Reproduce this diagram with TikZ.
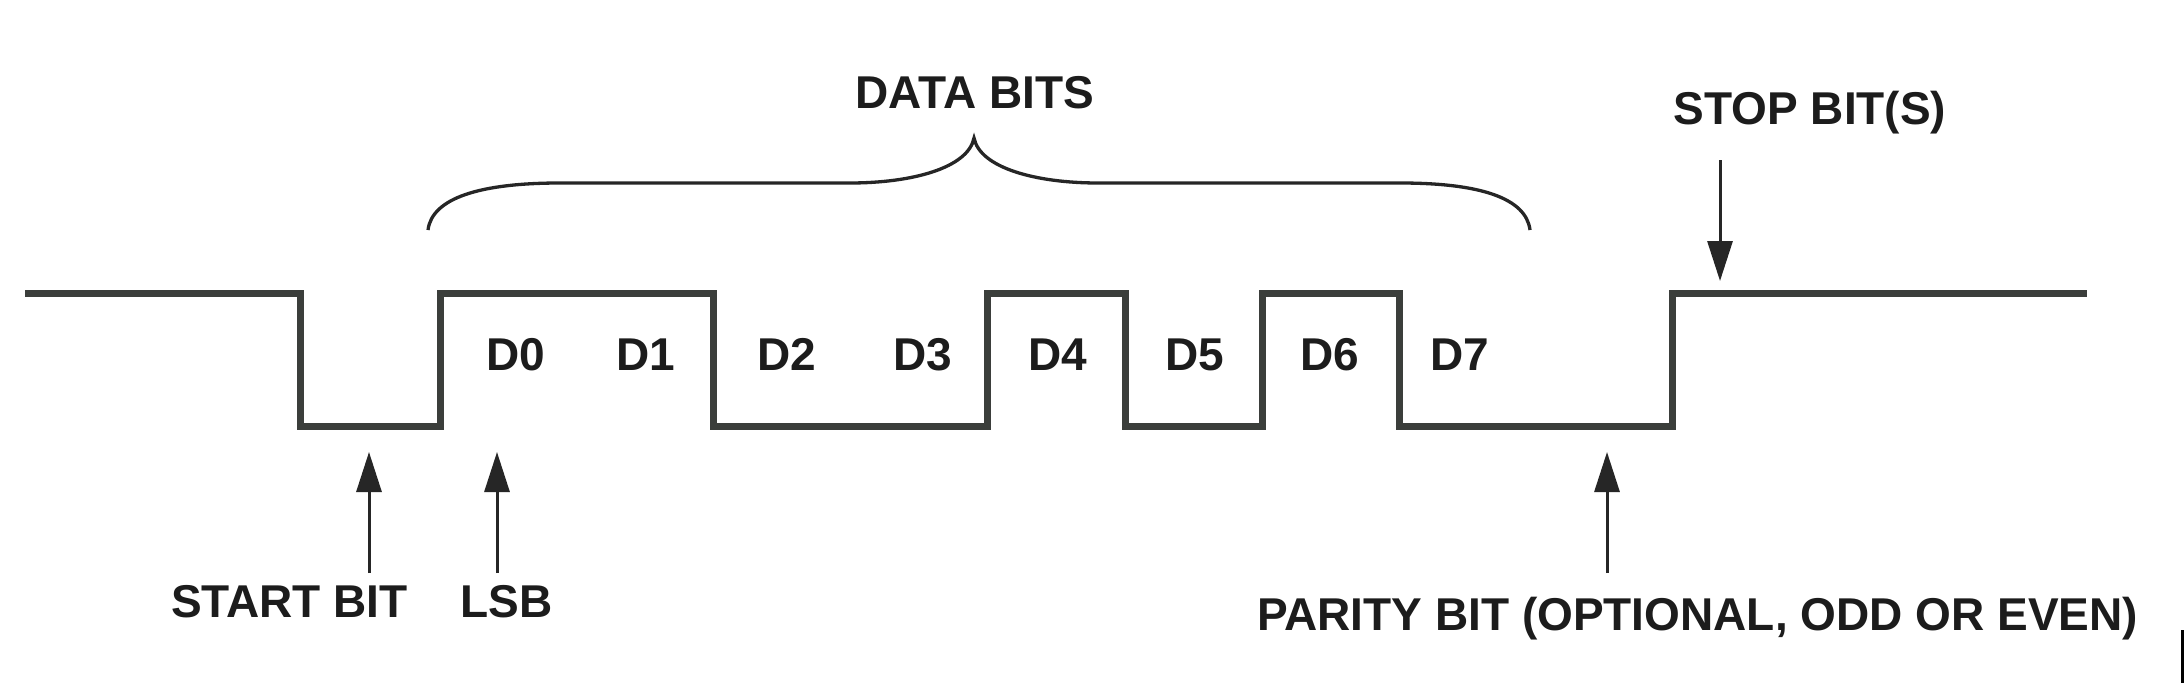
\documentclass[tikz,border=0pt]{standalone}
\usepackage{fontspec}
\setmainfont{Liberation Sans}
\usetikzlibrary{arrows.meta}
\definecolor{wave}{HTML}{3B3E3B}
\definecolor{ink}{HTML}{1C1C1C}
\definecolor{arrowc}{HTML}{262626}
\tikzset{
  lbl/.style={anchor=base, inner sep=0pt, text=ink, font=\fontsize{46}{50}\selectfont\bfseries},
  wavel/.style={draw=wave, line width=7pt, line join=miter, line cap=butt},
  bracel/.style={draw=arrowc, line width=3.3pt},
  arr/.style={draw=arrowc, line width=3pt, -{Triangle[length=40pt,width=25pt]}}
}
\begin{document}
\begin{tikzpicture}[x=1pt,y=-1pt]
\useasboundingbox (0,0) rectangle (2184,693);
\fill[white] (0,0) rectangle (2184,693);
% waveform
\draw[wavel] (25,293) -- (300,293) -- (300,426) -- (440,426) -- (440,293)
  -- (713,293) -- (713,426) -- (987,426) -- (987,293) -- (1125,293)
  -- (1125,426) -- (1262,426) -- (1262,293) -- (1399,293) -- (1399,426)
  -- (1672,426) -- (1672,293) -- (2087,293);
% brace
\draw[bracel] (428,230) .. controls (432,198) and (480,183) .. (560,183) -- (850,183)
  .. controls (912,183) and (968,168) .. (974,138)
  .. controls (980,168) and (1036,183) .. (1098,183) -- (1400,183)
  .. controls (1480,183) and (1526,198) .. (1530,230);
% labels
\node[lbl] (data) at (975,108) {DATA BITS};
\node[lbl] (stop) at (1810,124) {STOP BIT(S)};
\node[lbl] (start) at (289.5,617) {START BIT};
\node[lbl] (lsb) at (506.5,617) {LSB};
\node[lbl] (parity) at (1697.5,630) {PARITY BIT (OPTIONAL, ODD OR EVEN)};
\node[lbl] (d0) at (516,370.5) {D0};
\node[lbl] (d1) at (646,370.5) {D1};
\node[lbl] (d2) at (787,370.5) {D2};
\node[lbl] (d3) at (923,370.5) {D3};
\node[lbl] (d4) at (1058,370.5) {D4};
\node[lbl] (d5) at (1195,370.5) {D5};
\node[lbl] (d6) at (1330,370.5) {D6};
\node[lbl] (d7) at (1460,370.5) {D7};
% arrow endpoints
\coordinate (sbB) at (369,573);  \coordinate (sbT) at (369,452);
\coordinate (lsbB) at (497,573); \coordinate (lsbT) at (497,452);
\coordinate (parB) at (1607,573); \coordinate (parT) at (1607,452);
\coordinate (stT) at (1720,160); \coordinate (stB) at (1720,281);
\draw[arr] (sbB) -- (sbT);
\draw[arr] (lsbB) -- (lsbT);
\draw[arr] (parB) -- (parT);
\draw[arr] (stT) -- (stB);
% edge mark at right
\fill[black] (2181,630) rectangle (2184,683);
\end{tikzpicture}
\end{document}
